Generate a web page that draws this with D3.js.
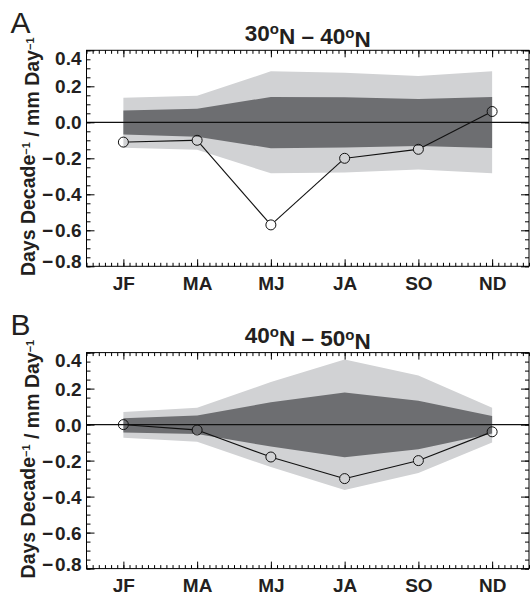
<!DOCTYPE html>
<html>
<head>
<meta charset="utf-8">
<script src="https://cdn.jsdelivr.net/npm/d3@7"></script>
<style>
  body { margin: 0; background: #fff; }
  svg { display: block; font-family: "Liberation Sans", Arial, Helvetica, sans-serif; }
</style>
</head>
<body>
<script>
// categories and tick labels
const months = ["JF", "MA", "MJ", "JA", "SO", "ND"];
const yTicks = [-0.8, -0.6, -0.4, -0.2, 0.0, 0.2, 0.4];

// panel A: 30N - 40N
const lineA = [-0.11, -0.10, -0.57, -0.20, -0.15, 0.06];
const darkHiA = [0.066, 0.075, 0.141, 0.139, 0.130, 0.141];
const darkLoA = [-0.068, -0.080, -0.144, -0.140, -0.132, -0.143];
const lightHiA = [0.136, 0.148, 0.283, 0.275, 0.257, 0.283];
const lightLoA = [-0.142, -0.153, -0.283, -0.279, -0.262, -0.283];

// panel B: 40N - 50N
const lineB = [0.0, -0.03, -0.18, -0.30, -0.20, -0.04];
const darkHiB = [0.035, 0.050, 0.124, 0.179, 0.132, 0.048];
const darkLoB = [-0.044, -0.052, -0.122, -0.182, -0.137, -0.050];
const lightHiB = [0.070, 0.094, 0.236, 0.361, 0.273, 0.094];
const lightLoB = [-0.073, -0.095, -0.236, -0.364, -0.269, -0.100];

const width = 532;
const height = 595;
const plotLeft = 86.5;
const plotRight = 529;
const plotH = 216;

const svg = d3.create("svg").attr("width", width).attr("height", height);

const panels = [
  { letter: "A", top: 50.3, lat: ["30", "40"], line: lineA,
    darkHi: darkHiA, darkLo: darkLoA, lightHi: lightHiA, lightLo: lightLoA },
  { letter: "B", top: 352.6, lat: ["40", "50"], line: lineB,
    darkHi: darkHiB, darkLo: darkLoB, lightHi: lightHiB, lightLo: lightLoB },
];

function styleAxis(sel) {
  sel.attr("font-size", null).attr("font-family", null);
  sel.select(".domain").remove();
  sel.selectAll("line").attr("stroke", "#000").attr("stroke-width", 1);
  sel.selectAll("text")
    .attr("fill", "#231f20")
    .style("font-size", "19px")
    .style("font-weight", "bold");
}

function drawPanel(p) {
  const g = svg.append("g");
  const bottom = p.top + plotH;
  const x = d3.scaleLinear().domain([-0.5, 5.5]).range([plotLeft, plotRight]);
  const y = d3.scaleLinear().domain([-0.8, 0.4]).range([bottom, p.top]);

  // spread bands
  const band = (hi, lo) => d3.area()
    .x((d, i) => x(i))
    .y0((d, i) => y(lo[i]))
    .y1(d => y(d))(hi);
  g.append("path").attr("d", band(p.lightHi, p.lightLo)).attr("fill", "#d1d2d4");
  g.append("path").attr("d", band(p.darkHi, p.darkLo)).attr("fill", "#6d6e71");

  // zero line
  g.append("line")
    .attr("x1", plotLeft).attr("x2", plotRight)
    .attr("y1", y(0)).attr("y2", y(0))
    .attr("stroke", "#111").attr("stroke-width", 1.3);

  // trend line, segments stop at the circle edges
  const r = 5;
  const pts = p.line.map((v, i) => [x(i), y(v)]);
  for (let i = 0; i < pts.length - 1; i++) {
    const a = pts[i], b = pts[i + 1];
    const dx = b[0] - a[0], dy = b[1] - a[1];
    const len = Math.sqrt(dx * dx + dy * dy);
    g.append("line")
      .attr("x1", a[0] + dx / len * r).attr("y1", a[1] + dy / len * r)
      .attr("x2", b[0] - dx / len * r).attr("y2", b[1] - dy / len * r)
      .attr("stroke", "#111").attr("stroke-width", 1.1);
  }
  g.selectAll("circle.pt")
    .data(p.line)
    .join("circle")
    .attr("cx", (d, i) => x(i))
    .attr("cy", d => y(d))
    .attr("r", r)
    .attr("fill", "none")
    .attr("stroke", "#111")
    .attr("stroke-width", 1);

  // frame
  g.append("rect")
    .attr("x", plotLeft).attr("y", p.top)
    .attr("width", plotRight - plotLeft).attr("height", plotH)
    .attr("fill", "none").attr("stroke", "#000").attr("stroke-width", 1);

  // axes, ticks point inward
  const yMinor = d3.range(0, 25).map(k => -0.8 + k * 0.05);
  const xMinor = d3.range(0, 73).map(k => -0.5 + k / 12);

  const left = g.append("g").attr("transform", `translate(${plotLeft},0)`)
    .call(d3.axisLeft(y).tickValues(yTicks).tickSize(-8).tickPadding(5).tickFormat(d3.format(".1f")));
  styleAxis(left);
  // minus drawn as its own tspan with a small gap; end labels sit inside the frame
  left.selectAll(".tick text")
    .attr("dy", d => d === 0.4 ? "0.74em" : d === -0.8 ? "0.08em" : "0.34em")
    .each(function (d) {
      const txt = d3.select(this).text(null);
      if (d < 0) txt.append("tspan").text("\u2212");
      txt.append("tspan").attr("dx", d < 0 ? 2 : 0).text(d3.format(".1f")(Math.abs(d)));
    });
  styleAxis(g.append("g").attr("transform", `translate(${plotLeft},0)`)
    .call(d3.axisLeft(y).tickValues(yMinor).tickSize(-4).tickFormat("")));
  styleAxis(g.append("g").attr("transform", `translate(${plotRight},0)`)
    .call(d3.axisRight(y).tickValues(yTicks).tickSize(-8).tickFormat("")));
  styleAxis(g.append("g").attr("transform", `translate(${plotRight},0)`)
    .call(d3.axisRight(y).tickValues(yMinor).tickSize(-4).tickFormat("")));

  styleAxis(g.append("g").attr("transform", `translate(0,${bottom})`)
    .call(d3.axisBottom(x).tickValues(d3.range(months.length)).tickSize(-7)
      .tickPadding(10).tickFormat(i => months[i])));
  styleAxis(g.append("g").attr("transform", `translate(0,${bottom})`)
    .call(d3.axisBottom(x).tickValues(xMinor).tickSize(-3.5).tickFormat("")));
  styleAxis(g.append("g").attr("transform", `translate(0,${p.top})`)
    .call(d3.axisTop(x).tickValues(d3.range(months.length)).tickSize(-7).tickFormat("")));
  styleAxis(g.append("g").attr("transform", `translate(0,${p.top})`)
    .call(d3.axisTop(x).tickValues(xMinor).tickSize(-3.5).tickFormat("")));

  // title
  const t = g.append("text")
    .attr("x", (plotLeft + plotRight) / 2)
    .attr("y", p.top - 9.6)
    .attr("text-anchor", "middle")
    .attr("fill", "#231f20")
    .style("font-size", "22.5px")
    .style("font-weight", "bold");
  t.append("tspan").text(p.lat[0]);
  t.append("tspan").attr("dy", "-0.42em").style("font-size", "15px").text("o");
  t.append("tspan").attr("dy", "0.42em").text("N \u2013 " + p.lat[1]);
  t.append("tspan").attr("dy", "-0.42em").style("font-size", "15px").text("o");
  t.append("tspan").attr("dy", "0.42em").text("N");

  // panel letter
  g.append("text")
    .attr("x", 10.5).attr("y", p.top - 17.3)
    .attr("fill", "#231f20")
    .style("font-size", "30px")
    .text(p.letter);

  // y axis title
  const yl = g.append("text")
    .attr("transform", `translate(35,${(p.top + bottom) / 2 - 1.5}) rotate(-90)`)
    .attr("text-anchor", "middle")
    .attr("fill", "#231f20")
    .style("font-size", "19.5px")
    .style("font-weight", "bold");
  yl.append("tspan").text("Days Decade");
  yl.append("tspan").attr("dy", "-0.5em").style("font-size", "11px").text("\u22121");
  yl.append("tspan").attr("dy", "0.5em").text(" / mm Day");
  yl.append("tspan").attr("dy", "-0.5em").style("font-size", "11px").text("\u22121");
}

panels.forEach(drawPanel);

d3.select("body").append(() => svg.node());
</script>
</body>
</html>
